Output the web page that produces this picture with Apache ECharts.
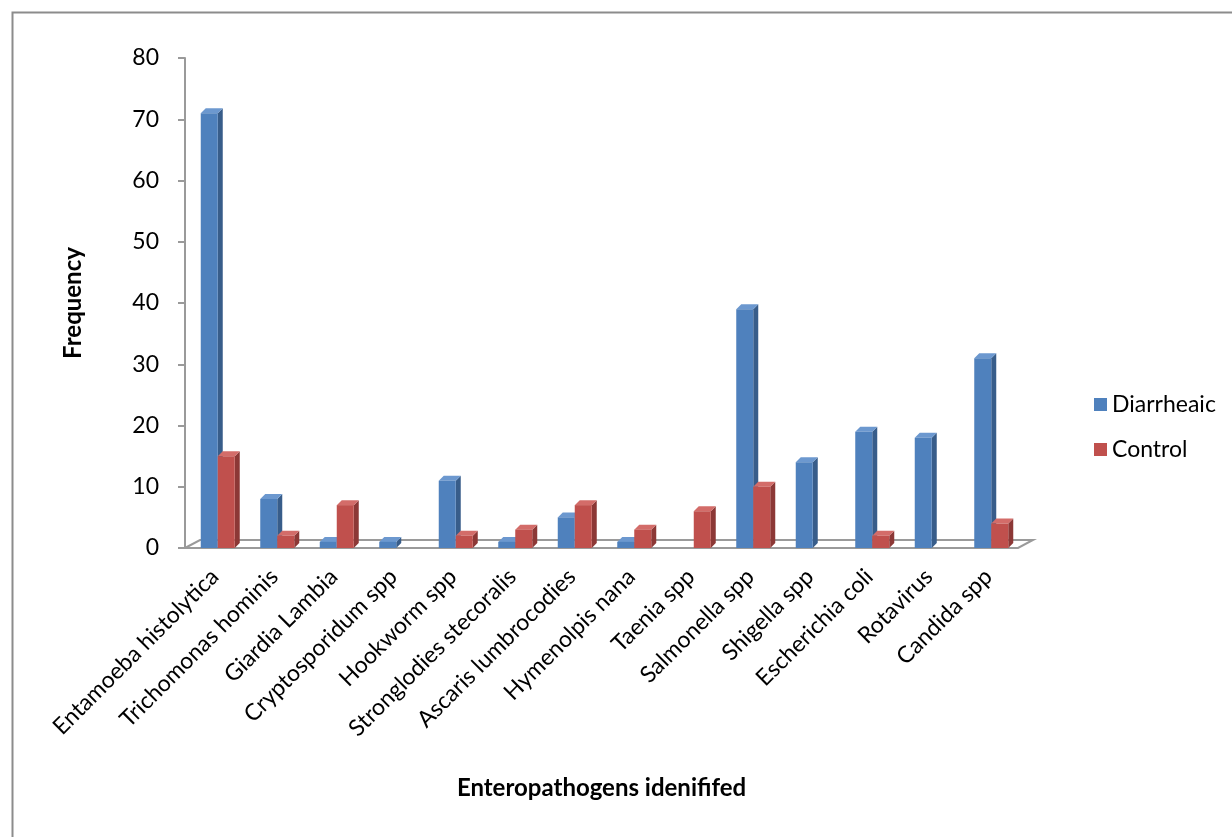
<!DOCTYPE html>
<html>
<head>
<meta charset="utf-8">
<script src="https://cdn.jsdelivr.net/npm/echarts@6/dist/echarts.min.js"></script>
<style>
  html, body { margin: 0; padding: 0; background: #fff; }
  #chart { width: 1232px; height: 837px; }
</style>
</head>
<body>
<div id="chart"></div>
<script>
// Enteropathogen frequencies, diarrhoeic cases vs controls
const categories = [
  'Entamoeba histolytica', 'Trichomonas hominis', 'Giardia Lambia',
  'Cryptosporidum spp', 'Hookworm spp', 'Stronglodies stecoralis',
  'Ascaris lumbrocodies', 'Hymenolpis nana', 'Taenia spp',
  'Salmonella spp', 'Shigella spp', 'Escherichia coli', 'Rotavirus',
  'Candida spp'
];
const diarrheaic = [71, 8, 1, 1, 11, 1, 5, 1, 0, 39, 14, 19, 18, 31];
const control    = [15, 2, 7, 0, 2, 3, 7, 3, 6, 10, 0, 2, 0, 4];
const yTicks = { min: 0, max: 80, interval: 10 };

const FONT = 'Lato, "Open Sans", sans-serif';
const BAR_W = 17, DX = 5, DY = 5;

// 3D-style column: front face, right side and top face
function makeColumn(side, front, dark, light) {
  return function (params, api) {
    const v = api.value(1);
    if (!v) return null;
    const top = api.coord([api.value(0), v]);
    const base = api.coord([api.value(0), 0]);
    const cx = top[0] + 3;
    const x0 = side < 0 ? cx - BAR_W : cx;
    const x1 = x0 + BAR_W;
    const y0 = top[1], y1 = base[1];
    return {
      type: 'group',
      children: [
        { type: 'polygon', shape: { points: [[x1, y0], [x1 + DX, y0 - DY], [x1 + DX, y1 - DY], [x1, y1]] },
          style: { fill: dark } },
        { type: 'polygon', shape: { points: [[x0, y0], [x0 + DX, y0 - DY], [x1 + DX, y0 - DY], [x1, y0]] },
          style: { fill: light } },
        { type: 'rect', shape: { x: x0, y: y0, width: BAR_W, height: y1 - y0 },
          style: { fill: front } }
      ]
    };
  };
}

// Floor of the plot: a thin slanted plane under the columns
function renderFloor(params, api) {
  const cs = params.coordSys;
  const yb = cs.y + cs.height;
  const xl = cs.x, xr = cs.x + cs.width;
  const st = { stroke: '#9a9a9a', lineWidth: 2, fill: null };
  return {
    type: 'group',
    children: [
      { type: 'polyline', shape: { points: [[xl, yb], [xl + 15, yb - 8], [xr + 15, yb - 8], [xr, yb], [xl, yb]] }, style: st, z2: -1 }
    ]
  };
}

const chart = echarts.init(document.getElementById('chart'));
chart.setOption({
  backgroundColor: '#fff',
  animation: false,
  graphic: [{
    type: 'rect', left: 10, top: 10,
    shape: { width: 1240, height: 840 },
    style: { fill: null, stroke: '#8c8c8c', lineWidth: 2 }
  }],
  grid: { left: 185, right: 214, top: 58, bottom: 289, containLabel: false },
  legend: {
    orient: 'vertical', left: 1089, top: 388, itemGap: 22,
    icon: 'rect', itemWidth: 13, itemHeight: 13,
    textStyle: { fontFamily: FONT, fontSize: 23, color: '#000' },
    data: ['Diarrheaic', 'Control']
  },
  xAxis: {
    type: 'category', data: categories,
    name: 'Enteropathogens idenififed', nameLocation: 'middle', nameGap: 228,
    nameTextStyle: { fontFamily: FONT, fontSize: 24, fontWeight: 'bold', color: '#000' },
    axisLine: { show: false }, axisTick: { show: false },
    axisLabel: { rotate: 45, interval: 0, margin: 25, fontFamily: FONT, fontSize: 23, color: '#000' }
  },
  yAxis: {
    type: 'value', min: yTicks.min, max: yTicks.max, interval: yTicks.interval,
    name: 'Frequency', nameLocation: 'middle', nameGap: 100, nameRotate: 90,
    nameTextStyle: { fontFamily: FONT, fontSize: 24, fontWeight: 'bold', color: '#000' },
    axisLine: { show: true, lineStyle: { color: '#9a9a9a', width: 2 } },
    axisTick: { show: true, length: 7, lineStyle: { color: '#9a9a9a', width: 2 } },
    axisLabel: { margin: 26, fontFamily: FONT, fontSize: 23, color: '#000' },
    splitLine: { show: false }
  },
  series: [
    { type: 'custom', name: 'floor', renderItem: renderFloor, data: [[0, 0]], silent: true, z: 1 },
    { type: 'custom', name: 'Diarrheaic', itemStyle: { color: '#4F81BD' }, z: 3,
      renderItem: makeColumn(-1, '#4F81BD', '#385D8A', '#6C98CF'),
      data: diarrheaic.map((v, i) => [i, v]) },
    { type: 'custom', name: 'Control', itemStyle: { color: '#C0504D' }, z: 3,
      renderItem: makeColumn(1, '#C0504D', '#8C3836', '#D36C69'),
      data: control.map((v, i) => [i, v]) }
  ]
});
</script>
</body>
</html>
